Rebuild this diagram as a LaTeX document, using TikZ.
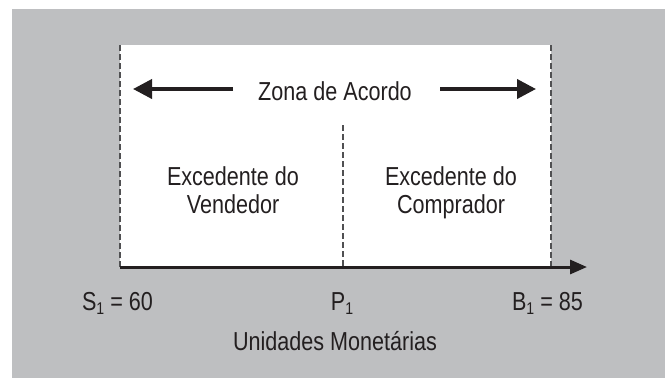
\documentclass[tikz,border=0pt]{standalone}
\usepackage{fontspec}
\setmainfont{Liberation Sans}[FakeStretch=0.83]
\usetikzlibrary{arrows.meta}
\definecolor{bg}{RGB}{190,191,193}
\definecolor{ink}{RGB}{35,31,32}
\definecolor{dashc}{RGB}{80,80,82}
\newcommand\subone{\raisebox{-4pt}{\fontsize{17}{17}\selectfont 1}}
\begin{document}
\begin{tikzpicture}[x=1pt,y=-1pt,
  lbl/.style={font=\fontsize{26}{28}\selectfont, text=ink, inner sep=0pt, align=center},
  dashln/.style={draw=dashc, line width=1.3pt, dash pattern=on 6pt off 3pt},
  bigarrow/.style={draw=ink, line width=3.8pt, -{Triangle[length=19pt,width=19pt]}},
  axisarrow/.style={draw=ink, line width=3pt, -{Triangle[length=17pt,width=14pt]}}]
\useasboundingbox (0,0) rectangle (668,378);
\fill[bg] (12,9) rectangle (665,378);
\fill[white] (120,45) rectangle (551,267);
% coordinates
\coordinate (tl) at (120,45);
\coordinate (bl) at (120,267);
\coordinate (tr) at (551,45);
\coordinate (br) at (551,267);
\coordinate (pt) at (343,125);
\coordinate (pb) at (343,267);
\coordinate (axend) at (587,267);
\coordinate (la1) at (233,89);
\coordinate (la2) at (133,89);
\coordinate (ra1) at (440,89);
\coordinate (ra2) at (536,89);
% dashed lines
\draw[dashln] (tl) -- (bl);
\draw[dashln] (tr) -- (br);
\draw[dashln] (pt) -- (pb);
% axis
\draw[axisarrow] (bl) -- (axend);
% arrows
\draw[bigarrow] (la1) -- (la2);
\draw[bigarrow] (ra1) -- (ra2);
% texts
\node[lbl, anchor=base] (zona) at (335,100) {Zona de Acordo};
\node[lbl, anchor=base] (vend) at (233,213) {Excedente do\\Vendedor};
\node[lbl, anchor=base] (comp) at (451,213) {Excedente do\\Comprador};
\node[lbl, anchor=base] (s1) at (117.5,310) {S\subone{} = 60};
\node[lbl, anchor=base] (p1) at (342,310) {P\subone};
\node[lbl, anchor=base] (b1) at (547.5,310) {B\subone{} = 85};
\node[lbl, anchor=base] (um) at (335,350) {Unidades Monetárias};
\end{tikzpicture}
\end{document}
